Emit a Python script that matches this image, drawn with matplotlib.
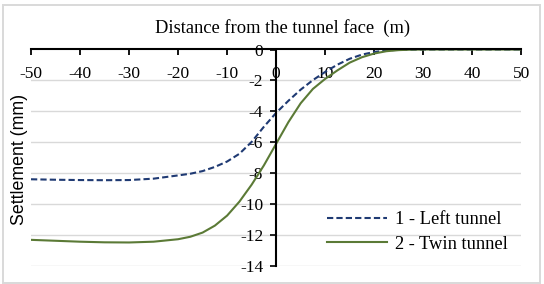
import matplotlib
matplotlib.use("Agg")
import matplotlib.pyplot as plt
from matplotlib.patches import Rectangle

x = [-50, -45, -40, -35, -30, -25, -20, -17.5, -15, -12.5, -10, -7.5, -5, -2.5, 0,
     2.5, 5, 7.5, 10, 12.5, 15, 17.5, 20, 22.5, 25, 27.5, 30, 35, 40, 45, 50]
left_tunnel = [-8.40, -8.43, -8.45, -8.46, -8.45, -8.36, -8.15, -8.04, -7.87, -7.60, -7.25,
               -6.75, -5.98, -5.00, -4.10, -3.32, -2.60, -1.98, -1.45, -0.98, -0.60,
               -0.33, -0.16, -0.06, -0.02, -0.01, 0.0, 0.0, 0.0, 0.0, 0.0]
twin_tunnel = [-12.32, -12.38, -12.44, -12.48, -12.49, -12.44, -12.28, -12.12, -11.85,
               -11.40, -10.75, -9.85, -8.75, -7.50, -6.10, -4.70, -3.48, -2.55, -1.90,
               -1.35, -0.85, -0.50, -0.26, -0.11, -0.04, -0.01, 0.0, 0.0, 0.0, 0.0, 0.0]
series_labels = ["1 - Left tunnel", "2 - Twin tunnel"]
xticks = list(range(-50, 51, 10))
yticks = list(range(-14, 1, 2))

plt.rcParams['font.family'] = ['Liberation Serif', 'DejaVu Serif']

W, H = 544, 284
fig = plt.figure(figsize=(W / 100, H / 100), dpi=100)
fig.patches.append(Rectangle((3 / W, 1 / H), 537 / W, 278 / H, transform=fig.transFigure,
                             fill=False, edgecolor='#d9d9d9', linewidth=1.4))
ax = fig.add_axes([31 / W, 1 - 265.8 / H, 490.3 / W, 216.3 / H])
ax.set_xlim(-50, 50)
ax.set_ylim(-14, 0)
ax.patch.set_alpha(0)

for yv in yticks[:-1]:
    ax.axhline(yv, color='#d9d9d9', linewidth=1.0, zorder=0)

ax.plot(x, left_tunnel, color='#1f3a73', linewidth=1.5, linestyle=(0, (3.0, 1.5)),
        label=series_labels[0], zorder=3)
ax.plot(x, twin_tunnel, color='#5b7a36', linewidth=1.5, label=series_labels[1], zorder=3)

ax.spines['right'].set_visible(False)
ax.spines['bottom'].set_visible(False)
ax.spines['top'].set_position(('data', 0))
ax.spines['left'].set_position(('data', 0))
ax.spines['top'].set_linewidth(1.5)
ax.spines['left'].set_linewidth(1.5)
ax.spines['top'].set_zorder(4)
ax.spines['left'].set_zorder(4)
ax.xaxis.set_ticks_position('top')
ax.set_xticks(xticks)
ax.set_yticks(yticks)
ax.set_yticklabels([str(v) for v in yticks])
ax.tick_params(axis='x', direction='in', length=4, width=1.3, labeltop=False,
               labelbottom=False)
ax.tick_params(axis='y', direction='out', length=4.3, width=1.2, labelsize=12.5, pad=5)
for v in xticks:
    ax.text(v, -1.85, str(v), ha='center', va='baseline', fontsize=12.5, zorder=2)

fig.text(283 / W, 1 - 32.5 / H, "Distance from the tunnel face  (m)", ha='center',
         va='baseline', fontsize=13.3)
fig.text(20 / W, 1 - 159 / H, "Settlement (mm)", ha='center', va='center', rotation=90,
         fontsize=12.8, family=['Liberation Sans', 'DejaVu Sans'])

leg = ax.legend(loc='upper left', bbox_to_anchor=(327 / W, 1 - 211 / H),
                bbox_transform=fig.transFigure, frameon=False, fontsize=13.3,
                handlelength=3.25, labelspacing=0.42, handletextpad=0.43,
                borderpad=0, borderaxespad=0)

fig.savefig("out.png", dpi=100)
